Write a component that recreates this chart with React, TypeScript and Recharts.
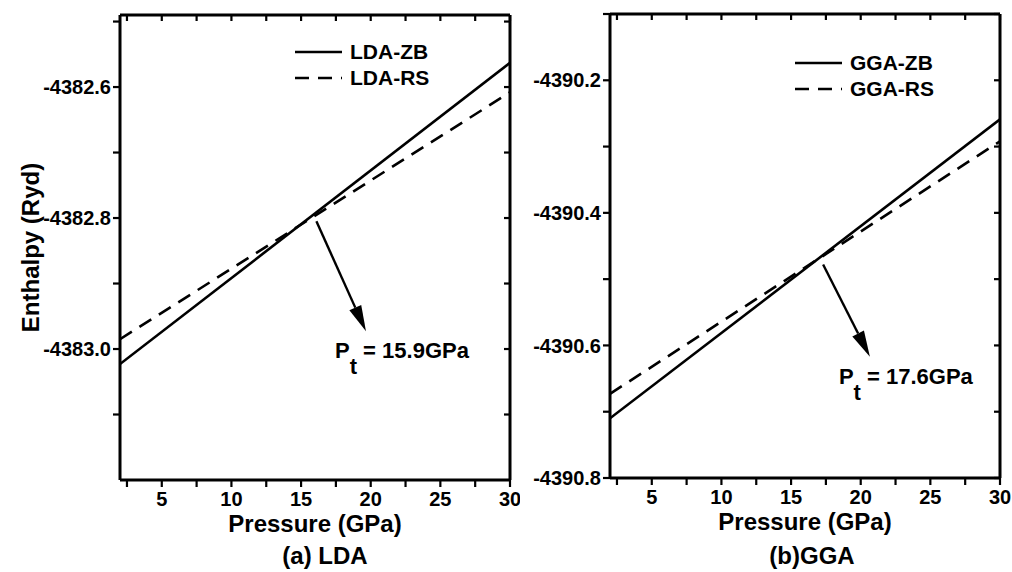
import React from 'react';
import { LineChart, Line, XAxis, YAxis, ReferenceLine, Legend } from 'recharts';

// pressure end points (GPa) and enthalpy (Ryd)
const pressureGPa = [2, 30];
const ldaZb = [-4383.023, -4382.563];
const ldaRs = [-4382.985, -4382.608];
const ggaZb = [-4390.71, -4390.259];
const ggaRs = [-4390.673, -4390.292];

// transition arrows: start near the crossing, end above the label
const ldaArrowP = [16.1, 19.66];
const ldaArrowH = [-4382.805, -4382.973];
const ggaArrowP = [17.3, 20.66];
const ggaArrowH = [-4390.478, -4390.617];

const xTicks = [2.5, 5, 7.5, 10, 12.5, 15, 17.5, 20, 22.5, 25, 27.5, 30];
const ldaTicks = [-4383.1, -4383.0, -4382.9, -4382.8, -4382.7, -4382.6, -4382.5];
const ggaTicks = [-4390.8, -4390.7, -4390.6, -4390.5, -4390.4, -4390.3, -4390.2, -4390.1];

const FONT = '"Liberation Sans", Arial, sans-serif';
const fmtX = (v: number) => (v % 5 === 0 ? String(v) : '');
const fmtY = (v: number) => (Math.round(v * 10) % 2 === 0 ? v.toFixed(1) : '');
const blank = () => '';

const tickStyle = { fill: '#000', fontSize: 20, fontWeight: 'bold', fontFamily: FONT };
const axisLine = { stroke: '#000', strokeWidth: 3 };
const tickLine = { stroke: '#000', strokeWidth: 2.2 };

const arrowShape = (value: string) => (props: any) => {
  const { x1, y1, x2, y2 } = props;
  const a = Math.atan2(y2 - y1, x2 - x1);
  const len = 26;
  const half = 6.5;
  const bx = x2 - len * Math.cos(a);
  const by = y2 - len * Math.sin(a);
  const pts = `${x2},${y2} ${bx - half * Math.sin(a)},${by + half * Math.cos(a)} ${bx + half * Math.sin(a)},${by - half * Math.cos(a)}`;
  return (
    <g>
      <line x1={x1} y1={y1} x2={bx} y2={by} stroke="#000" strokeWidth={2.4} />
      <polygon points={pts} fill="#000" />
      <text x={x2 - 31} y={y2 + 27} fontFamily={FONT} fontWeight="bold" fontSize={22} fill="#000">
        <tspan>P</tspan>
        <tspan dy={16}>t</tspan>
        <tspan dy={-16}>{` = ${value}`}</tspan>
      </text>
    </g>
  );
};

const LegendBox = ({ names }: { names: string[] }) => (
  <div style={{ fontFamily: FONT, fontWeight: 'bold', fontSize: 21, color: '#000', lineHeight: '26px' }}>
    {names.map((n, i) => (
      <div key={n} style={{ display: 'flex', alignItems: 'center', height: 26 }}>
        <svg width={55} height={6}>
          <line x1={0} y1={3} x2={47} y2={3} stroke="#000" strokeWidth={2.6} strokeDasharray={i === 1 ? '14 9' : undefined} />
        </svg>
        <span>{n}</span>
      </div>
    ))}
  </div>
);

interface PanelProps {
  left: number;
  width: number;
  margin: { top: number; right: number; bottom: number; left: number };
  zb: number[];
  rs: number[];
  names: string[];
  yDomain: [number, number];
  yTicks: number[];
  arrowP: number[];
  arrowH: number[];
  pt: string;
  caption: string;
  captionX: number;
  legendPos: { top: number; left: number };
  yTitle?: boolean;
}

const Panel: React.FC<PanelProps> = ({
  left, width, margin, zb, rs, names, yDomain, yTicks, arrowP, arrowH, pt, caption, captionX, legendPos, yTitle
}) => {
  const data = pressureGPa.map((p, i) => ({ p, zb: zb[i], rs: rs[i] }));
  return (
    <div style={{ position: 'absolute', left, top: 0 }}>
      <LineChart width={width} height={572} data={data} margin={margin}>
        <XAxis
          dataKey="p"
          type="number"
          domain={[2, 30]}
          ticks={xTicks}
          allowDataOverflow
          tickFormatter={fmtX}
          tick={tickStyle}
          axisLine={axisLine}
          tickLine={tickLine}
          tickSize={7}
          tickMargin={5}
          height={52}
          interval={0}
          label={{
            value: 'Pressure (GPa)',
            position: 'insideBottom',
            offset: 0,
            fill: '#000',
            fontSize: 24,
            fontWeight: 'bold',
            fontFamily: FONT
          }}
        />
        <XAxis
          xAxisId="top"
          orientation="top"
          dataKey="p"
          type="number"
          domain={[2, 30]}
          ticks={xTicks}
          allowDataOverflow
          tickFormatter={blank}
          axisLine={axisLine}
          tickLine={tickLine}
          tickSize={6}
          mirror
          height={1}
          interval={0}
        />
        <YAxis
          type="number"
          domain={yDomain}
          ticks={yTicks}
          allowDataOverflow
          tickFormatter={fmtY}
          tick={tickStyle}
          axisLine={axisLine}
          tickLine={tickLine}
          tickSize={7}
          tickMargin={2}
          width={80}
          interval={0}
          label={
            yTitle
              ? {
                  content: (props: any) => {
                    const vb = props.viewBox || { x: 40, y: 15, width: 80, height: 465 };
                    const cx = vb.x - 10;
                    const cy = vb.y + vb.height / 2;
                    return (
                      <text
                        x={cx}
                        y={cy}
                        transform={`rotate(-90 ${cx} ${cy})`}
                        textAnchor="middle"
                        dominantBaseline="central"
                        fontFamily={FONT}
                        fontWeight="bold"
                        fontSize={24}
                        fill="#000"
                      >
                        Enthalpy (Ryd)
                      </text>
                    );
                  }
                }
              : undefined
          }
        />
        <YAxis
          yAxisId="right"
          orientation="right"
          type="number"
          domain={yDomain}
          ticks={yTicks}
          allowDataOverflow
          tickFormatter={blank}
          axisLine={axisLine}
          tickLine={tickLine}
          tickSize={6}
          mirror
          width={1}
          interval={0}
        />
        <Line dataKey="zb" stroke="#000" strokeWidth={2.6} dot={false} isAnimationActive={false} />
        <Line dataKey="rs" stroke="#000" strokeWidth={2.6} strokeDasharray="14 9" dot={false} isAnimationActive={false} />
        <ReferenceLine
          segment={[
            { x: arrowP[0], y: arrowH[0] },
            { x: arrowP[1], y: arrowH[1] }
          ]}
          ifOverflow="visible"
          shape={arrowShape(pt)}
        />
        <Legend
          layout="vertical"
          align="center"
          verticalAlign="middle"
          wrapperStyle={{ top: legendPos.top, left: legendPos.left, width: 'auto', height: 'auto' }}
          content={() => <LegendBox names={names} />}
        />
      </LineChart>
      <div
        style={{
          position: 'absolute',
          left: captionX - left - 100,
          width: 200,
          top: 543,
          textAlign: 'center',
          fontFamily: FONT,
          fontWeight: 'bold',
          fontSize: 24,
          lineHeight: '26px',
          color: '#000'
        }}
      >
        {caption}
      </div>
    </div>
  );
};

const App: React.FC = () => (
  <div style={{ position: 'absolute', left: 0, top: 0, width: 1012, height: 572, background: '#fff', overflow: 'hidden' }}>
    <Panel
      left={0}
      width={520}
      margin={{ top: 15, right: 10, bottom: 40, left: 40 }}
      zb={ldaZb}
      rs={ldaRs}
      names={['LDA-ZB', 'LDA-RS']}
      yDomain={[-4383.2, -4382.49]}
      yTicks={ldaTicks}
      arrowP={ldaArrowP}
      arrowH={ldaArrowH}
      pt="15.9GPa"
      caption="(a) LDA"
      captionX={325}
      legendPos={{ top: 39, left: 295 }}
      yTitle
    />
    <Panel
      left={500}
      width={512}
      margin={{ top: 14, right: 12, bottom: 42, left: 30 }}
      zb={ggaZb}
      rs={ggaRs}
      names={['GGA-ZB', 'GGA-RS']}
      yDomain={[-4390.8, -4390.1]}
      yTicks={ggaTicks}
      arrowP={ggaArrowP}
      arrowH={ggaArrowH}
      pt="17.6GPa"
      caption="(b)GGA"
      captionX={812}
      legendPos={{ top: 50, left: 295 }}
    />
  </div>
);

export default App;
